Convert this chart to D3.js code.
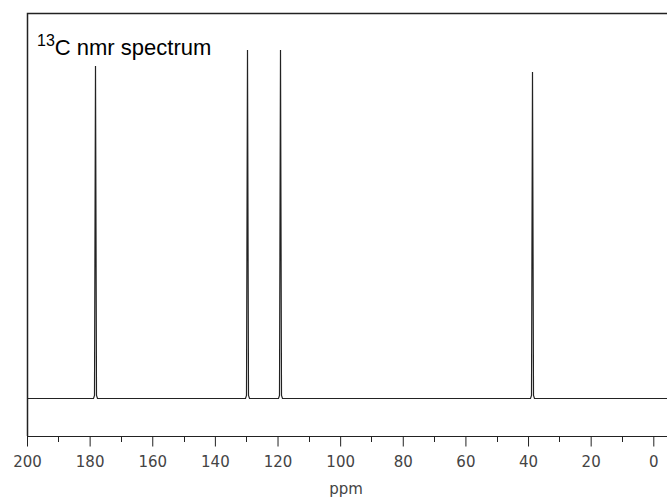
<!DOCTYPE html>
<html>
<head>
<meta charset="utf-8">
<script src="https://cdn.jsdelivr.net/npm/d3@7"></script>
<style>
  html, body { margin: 0; padding: 0; background: #fff; }
  svg { display: block; }
</style>
</head>
<body>
<div id="chart"></div>
<script>
// ---- data ----
const peakShifts = [178.4, 129.6, 119.2, 38.8];   // ppm
const peakHeights = [95.4, 100, 100, 93.7];        // relative intensity
const majorTicks = [200, 180, 160, 140, 120, 100, 80, 60, 40, 20, 0];
const minorTicks = [190, 170, 150, 130, 110, 90, 70, 50, 30, 10];
const xDomain = [200, 0];

const width = 667, height = 499;
const frame = { left: 27, top: 13, right: 667, axisY: 436 };

const svg = d3.select('#chart').append('svg')
    .attr('width', width)
    .attr('height', height);

const x = d3.scaleLinear().domain(xDomain).range([27, 653.3]);
const y = d3.scaleLinear().domain([0, 100]).range([398.5, 50]);

const ink = '#222';
const labelFont = '"DejaVu Sans", Verdana, sans-serif';

// Frame: top and left border
svg.append('path')
    .attr('d', `M${frame.right},${frame.top + 0.5}H${frame.left + 0.5}V${frame.axisY}`)
    .attr('fill', 'none')
    .attr('stroke', ink)
    .attr('stroke-width', 1.5);

// Axis line
svg.append('line')
    .attr('x1', frame.left).attr('x2', frame.right)
    .attr('y1', frame.axisY + 0.5).attr('y2', frame.axisY + 0.5)
    .attr('stroke', ink);

// Major ticks + labels
const axis = d3.axisBottom(x)
    .tickValues(majorTicks)
    .tickSize(10)
    .tickSizeOuter(0)
    .tickPadding(10)
    .tickFormat(d3.format('d'));

const gAxis = svg.append('g')
    .attr('transform', `translate(0,${frame.axisY + 0.5})`)
    .call(axis);
gAxis.select('.domain').remove();
gAxis.selectAll('line').attr('stroke', ink);
gAxis.selectAll('text')
    .attr('fill', '#444')
    .style('font-family', labelFont)
    .style('font-size', '15px');

// Minor ticks
svg.append('g')
    .selectAll('line')
    .data(minorTicks)
    .join('line')
    .attr('x1', d => Math.round(x(d)) + 0.5)
    .attr('x2', d => Math.round(x(d)) + 0.5)
    .attr('y1', frame.axisY)
    .attr('y2', frame.axisY + 6)
    .attr('stroke', ink);

// Axis title
svg.append('text')
    .attr('x', x(100) + 6)
    .attr('y', 494)
    .attr('text-anchor', 'middle')
    .attr('fill', '#444')
    .style('font-family', labelFont)
    .style('font-size', '15px')
    .text('ppm');

// Spectrum trace: baseline with narrow peaks
const peaks = peakShifts.map((p, i) => ({ ppm: p, h: peakHeights[i] }))
    .sort((a, b) => b.ppm - a.ppm);

const base = y(0);
let d = `M${x(xDomain[0])},${base}`;
peaks.forEach(p => {
    const px = Math.round(x(p.ppm)) + 0.5;
    d += `H${px - 2}L${px - 1},${base - 3}L${px},${y(p.h)}L${px + 1},${base - 3}L${px + 2},${base}`;
});
d += `H${frame.right}`;

svg.append('path')
    .attr('d', d)
    .attr('fill', 'none')
    .attr('stroke', ink)
    .attr('stroke-width', 1.2);

// Title with superscript
const title = svg.append('text')
    .attr('x', 37)
    .attr('y', 55)
    .attr('fill', '#000')
    .style('font-family', '"Liberation Sans", Arial, sans-serif')
    .style('font-size', '22px');
title.append('tspan')
    .attr('dy', -9)
    .style('font-size', '16px')
    .text('13');
title.append('tspan')
    .attr('dy', 9)
    .text('C nmr spectrum');
</script>
</body>
</html>
